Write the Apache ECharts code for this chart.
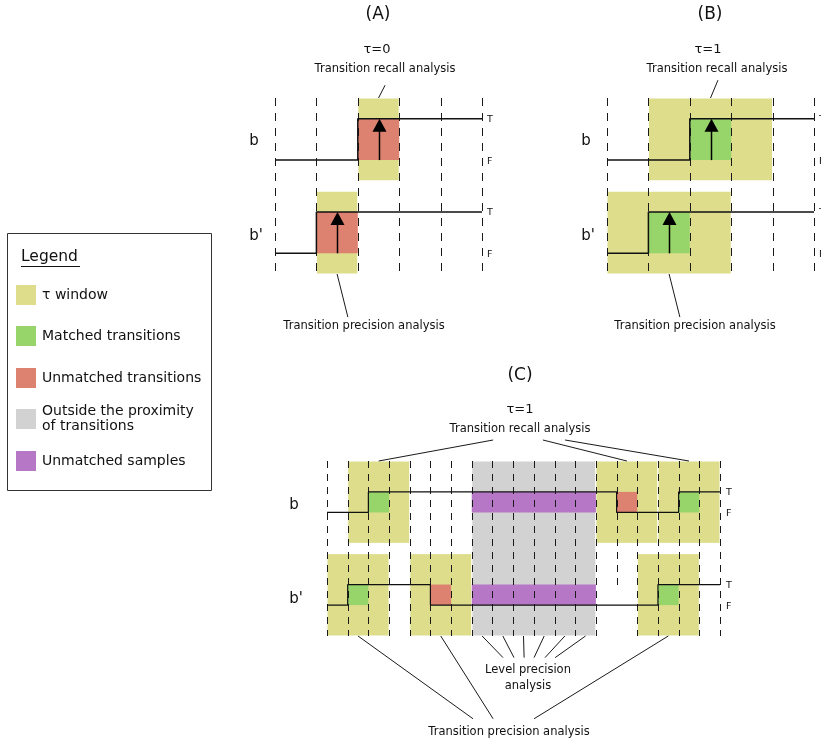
<!DOCTYPE html>
<html>
<head>
<meta charset="utf-8">
<script src="https://cdn.jsdelivr.net/npm/echarts@6/dist/echarts.min.js"></script>
<style>
  html, body { margin: 0; padding: 0; background: #fff; }
  #main { width: 821px; height: 746px; }
</style>
</head>
<body>
<div id="main"></div>
<script>
// signal level per sample interval, 0 = F, 1 = T
const levelsA_b  = [0, 0, 1, 1, 1];
const levelsA_b2 = [0, 1, 1, 1, 1];
const levelsB_b  = [0, 0, 1, 1, 1];
const levelsB_b2 = [0, 1, 1, 1, 1];
const levelsC_b  = [0, 0, 1, 1, 1, 1, 1, 1, 1, 1, 1, 1, 1, 1, 0, 0, 0, 1, 1];
const levelsC_b2 = [0, 1, 1, 1, 1, 0, 0, 0, 0, 0, 0, 0, 0, 0, 0, 0, 1, 1, 1];

// tolerance window (samples) per panel
const tauA = 0;
const tauB = 1;
const tauC = 1;

// sample boundary where the dashed line stops early (panel C)
const shortLinesC = { 14: -3.8 };

// leader targets (end points of the annotation lines, in sample units)
const recallTargetsA = [[2.66, 1.81]];
const recallTargetsB = [[2.68, 1.93]];
const recallTargetsC = [[8.03, 3.52], [10.44, 3.52], [11.51, 3.52]];
const precisionTargetsA = [[1.76, -3.79]];
const precisionTargetsB = [[1.76, -3.79]];
const precisionTargetsC = [[7.06, -10.02], [8.03, -10.02], [10.01, -10.02]];
const levelTargetsC = [[8.51, -7.05], [9.04, -7.05], [9.53, -7.05], [10.01, -7.05], [10.54, -7.05], [11.03, -7.05]];

const COLORS = {
  window: '#dddd8c',
  matched: '#97d46a',
  unmatched: '#dd8270',
  outside: '#d2d2d2',
  samples: '#b577c6'
};
const PALETTE = [COLORS.window, COLORS.matched, COLORS.unmatched, COLORS.outside, COLORS.samples];
const FONT = '"DejaVu Sans", "Lucida Grande", sans-serif';

function transitions(lv) {
  const t = [];
  for (let i = 1; i < lv.length; i++) {
    if (lv[i] !== lv[i - 1]) t.push({ at: i, dir: lv[i] - lv[i - 1] });
  }
  return t;
}

function stepPoints(lv, base) {
  const pts = [];
  lv.forEach((v, i) => { pts.push([i, base + v]); pts.push([i + 1, base + v]); });
  return pts;
}

function rectItem(params, api) {
  const a = api.coord([api.value(0), api.value(3)]);
  const b = api.coord([api.value(1), api.value(2)]);
  const k = api.value(4);
  return {
    type: 'rect',
    shape: { x: a[0], y: a[1], width: b[0] - a[0], height: b[1] - a[1] },
    style: { fill: PALETTE[k], stroke: (k === 0 || k === 3) ? '#fff' : null, lineWidth: 1 }
  };
}

function dashItem(dash) {
  return function (params, api) {
    const p0 = api.coord([api.value(0), api.value(1)]);
    const p1 = api.coord([api.value(0), api.value(2)]);
    const x = Math.round(p0[0]) + 0.5;
    return {
      type: 'line',
      shape: { x1: x, y1: p0[1], x2: x, y2: p1[1] },
      style: { stroke: '#1a1a1a', lineWidth: 1, lineDash: dash }
    };
  };
}

function arrowItem(params, api) {
  const p0 = api.coord([api.value(0), api.value(1)]);
  const p1 = api.coord([api.value(0), api.value(2)]);
  const x = Math.round(p0[0]) + 0.5;
  return {
    type: 'group',
    children: [
      { type: 'line', shape: { x1: x, y1: p0[1], x2: x, y2: p1[1] + 10 }, style: { stroke: '#000', lineWidth: 1.5 } },
      { type: 'polygon', shape: { points: [[x, p1[1]], [x - 7, p1[1] + 13], [x + 7, p1[1] + 13]] }, style: { fill: '#000' } }
    ]
  };
}

function leaderItem(params, api) {
  const p0 = api.coord([api.value(0), api.value(1)]);
  const p1 = api.coord([api.value(2), api.value(3)]);
  return {
    type: 'line',
    shape: { x1: p0[0], y1: p0[1], x2: p1[0], y2: p1[1] },
    style: { stroke: '#1a1a1a', lineWidth: 1 }
  };
}

// builds every series of one panel
function panel(gi, lvB, lvB2, tau, cfg) {
  const n = lvB.length;
  const rows = [
    { lv: lvB, base: 0, tr: transitions(lvB) },
    { lv: lvB2, base: cfg.offset, tr: transitions(lvB2) }
  ];
  const windows = [];
  const cells = [];
  rows.forEach((row, r) => {
    const other = rows[1 - r];
    row.tr.forEach(t => {
      const hit = other.tr.some(o => o.dir === t.dir && Math.abs(o.at - t.at) <= tau);
      const w = [t.at - tau, t.at + 1 + tau, row.base - cfg.pad, row.base + 1 + cfg.pad, 0];
      windows.push(w);
      cells.push([t.at, t.at + 1, row.base, row.base + 1, hit ? 1 : 2]);
      row.win = row.win || [];
      row.win.push(w);
    });
  });

  const gray = [];
  const purple = [];
  const grayCenters = [];
  if (cfg.level) {
    let start = null;
    for (let i = 0; i <= n; i++) {
      const covered = i === n || windows.some(w => w[0] <= i && i + 1 <= w[1]);
      if (!covered) {
        grayCenters.push(i + 0.5);
        if (start === null) start = i;
      } else if (start !== null) {
        gray.push([start, i, cfg.offset - cfg.pad, 1 + cfg.pad, 3]);
        rows.forEach(row => {
          if (row.lv.slice(start, i).some((v, k) => v !== rows[0].lv[start + k] || v !== rows[1].lv[start + k])) {
            purple.push([start, i, row.base, row.base + 1, 4]);
          }
        });
        start = null;
      }
    }
  }

  const dashes = [];
  for (let i = 0; i <= n; i++) {
    const bottom = (cfg.short && cfg.short[i] !== undefined) ? cfg.short[i] : cfg.offset - cfg.pad;
    dashes.push([i, 1 + cfg.pad, bottom]);
  }

  const arrows = cfg.arrows ? cells.map(c => [(c[0] + c[1]) / 2, c[2], c[3]]) : [];

  const leaders = [];
  rows[0].win.forEach((w, k) => {
    const t = cfg.recall[k];
    if (t) leaders.push([(w[0] + w[1]) / 2, w[3], t[0], t[1]]);
  });
  rows[1].win.forEach((w, k) => {
    const t = cfg.precision[k];
    if (t) leaders.push([(w[0] + w[1]) / 2, w[2], t[0], t[1]]);
  });
  if (cfg.levelTargets) {
    grayCenters.forEach((c, k) => {
      const t = cfg.levelTargets[k];
      if (t) leaders.push([c, cfg.offset - cfg.pad, t[0], t[1]]);
    });
  }

  const common = { xAxisIndex: gi, yAxisIndex: gi, silent: true, animation: false };
  return [
    Object.assign({ type: 'custom', name: 'areas' + gi, renderItem: rectItem, data: gray.concat(windows, purple, cells), clip: false }, common),
    Object.assign({ type: 'custom', name: 'grid' + gi, renderItem: dashItem(cfg.dash), data: dashes, clip: false }, common),
    Object.assign({ type: 'line', name: 'b' + gi, data: stepPoints(lvB, 0), showSymbol: false, clip: false,
      lineStyle: { color: '#111', width: cfg.lineWidth } }, common),
    Object.assign({ type: 'line', name: "b'" + gi, data: stepPoints(lvB2, cfg.offset), showSymbol: false, clip: false,
      lineStyle: { color: '#111', width: cfg.lineWidth } }, common),
    Object.assign({ type: 'custom', name: 'arrows' + gi, renderItem: arrowItem, data: arrows, clip: false }, common),
    Object.assign({ type: 'custom', name: 'leaders' + gi, renderItem: leaderItem, data: leaders, clip: false }, common)
  ];
}

function txt(text, x, y, size, align) {
  return {
    type: 'text', x: x, y: y, silent: true,
    style: { text: text, font: size + 'px ' + FONT, fill: '#111', textAlign: align || 'center', textVerticalAlign: 'middle' }
  };
}

const legendItems = [
  ['\u03c4 window', COLORS.window, 295],
  ['Matched transitions', COLORS.matched, 336],
  ['Unmatched transitions', COLORS.unmatched, 378],
  ['Outside the proximity\nof transitions', COLORS.outside, 419],
  ['Unmatched samples', COLORS.samples, 461]
];

const graphics = [
  { type: 'rect', shape: { x: 7.5, y: 233.5, width: 204, height: 257 }, style: { fill: '#fff', stroke: '#333', lineWidth: 1 } },
  txt('Legend', 21, 257, 15.5, 'left'),
  { type: 'line', shape: { x1: 21, y1: 266.5, x2: 80, y2: 266.5 }, style: { stroke: '#111', lineWidth: 1 } }
];
legendItems.forEach(([label, color, y]) => {
  graphics.push({ type: 'rect', shape: { x: 16, y: y - 10, width: 20, height: 20 }, style: { fill: color } });
  const t = txt(label, 42, y, 14, 'left');
  t.style.lineHeight = 15;
  graphics.push(t);
});

graphics.push(
  txt('(A)', 378, 15, 17), txt('\u03c4=0', 377, 50, 13), txt('Transition recall analysis', 385, 69, 11.5),
  txt('Transition precision analysis', 364, 326, 11.5),
  txt('b', 254, 141, 15), txt("b'", 256, 236, 15),
  txt('T', 487, 120, 9.5, 'left'), txt('F', 487, 162, 9.5, 'left'),
  txt('T', 487, 213, 9.5, 'left'), txt('F', 487, 255, 9.5, 'left'),

  txt('(B)', 710, 15, 17), txt('\u03c4=1', 708, 50, 13), txt('Transition recall analysis', 717, 69, 11.5),
  txt('Transition precision analysis', 695, 326, 11.5),
  txt('b', 586, 141, 15), txt("b'", 588, 236, 15),
  txt('T', 819, 120, 9.5, 'left'), txt('F', 819, 162, 9.5, 'left'),
  txt('T', 819, 213, 9.5, 'left'), txt('F', 819, 255, 9.5, 'left'),

  txt('(C)', 520, 376, 17), txt('\u03c4=1', 520, 410, 13), txt('Transition recall analysis', 520, 429, 11.5),
  txt('b', 294, 505, 15), txt("b'", 296, 599, 15),
  txt('T', 726, 493, 9.5, 'left'), txt('F', 726, 514, 9.5, 'left'),
  txt('T', 726, 586, 9.5, 'left'), txt('F', 726, 607, 9.5, 'left'),
  txt('Level precision', 528, 670, 11.5), txt('analysis', 528, 686, 11.5),
  txt('Transition precision analysis', 509, 732, 11.5)
);

const chart = echarts.init(document.getElementById('main'));

const option = {
  backgroundColor: '#fff',
  animation: false,
  grid: [
    { left: 275, top: 98, width: 207, height: 176 },
    { left: 607, top: 98, width: 207, height: 176 },
    { left: 327, top: 461, width: 393, height: 175 }
  ],
  xAxis: [
    { type: 'value', gridIndex: 0, min: 0, max: levelsA_b.length, show: false },
    { type: 'value', gridIndex: 1, min: 0, max: levelsB_b.length, show: false },
    { type: 'value', gridIndex: 2, min: 0, max: levelsC_b.length, show: false }
  ],
  yAxis: [
    { type: 'value', gridIndex: 0, min: -2.75, max: 1.5, show: false },
    { type: 'value', gridIndex: 1, min: -2.75, max: 1.5, show: false },
    { type: 'value', gridIndex: 2, min: -6, max: 2.5, show: false }
  ],
  graphic: graphics,
  series: [].concat(
    panel(0, levelsA_b, levelsA_b2, tauA, { offset: -2.25, pad: 0.5, dash: [8, 7], lineWidth: 1.5, arrows: true,
      recall: recallTargetsA, precision: precisionTargetsA }),
    panel(1, levelsB_b, levelsB_b2, tauB, { offset: -2.25, pad: 0.5, dash: [8, 7], lineWidth: 1.5, arrows: true,
      recall: recallTargetsB, precision: precisionTargetsB }),
    panel(2, levelsC_b, levelsC_b2, tauC, { offset: -4.5, pad: 1.5, dash: [7, 6], lineWidth: 1.2, arrows: false,
      level: true, short: shortLinesC, recall: recallTargetsC, precision: precisionTargetsC, levelTargets: levelTargetsC })
  )
};

chart.setOption(option);
</script>
</body>
</html>
